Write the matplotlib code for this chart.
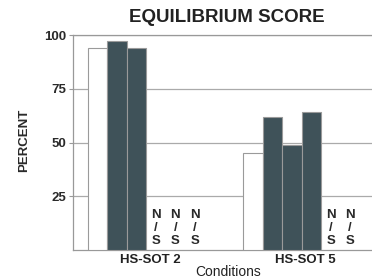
import matplotlib.pyplot as plt

plt.rcParams['font.family'] = ['Liberation Sans', 'DejaVu Sans']

conditions = ["HS-SOT 2", "HS-SOT 5"]
# six bar slots per condition; None = not shown (N/S)
hs_sot2 = [94, 97, 94, None, None, None]
hs_sot5 = [45, 62, 49, 64, None, None]
group_start = [0, 8]

yticks = [25, 50, 75, 100]

dark = "#3f5259"
edge = "#9a9a9a"

fig = plt.figure(figsize=(3.72, 2.80), dpi=100)
ax = fig.add_axes([73 / 372, 30 / 280, 316 / 372, 215 / 280])

for start, vals in zip(group_start, [hs_sot2, hs_sot5]):
    for i, v in enumerate(vals):
        x = start + i
        if v is None:
            ax.text(x + 0.5, 1.2, "N\n/\nS", ha="center", va="bottom",
                    fontsize=9.5, fontweight="bold", color="#2a2a2a",
                    linespacing=1.12)
            continue
        fc = "white" if i == 0 else dark
        ax.bar(x, v, width=1, align="edge", color=fc, edgecolor=edge,
               linewidth=0.8, zorder=3)

ax.set_xlim(-0.77, 15.5)
ax.set_ylim(0, 100)
ax.set_yticks(yticks)
ax.set_yticklabels([str(t) for t in yticks], fontsize=9.5, fontweight="bold",
                   color="#2a2a2a")
ax.yaxis.grid(True, color="#aaaaaa", linewidth=0.9, zorder=0)
ax.set_axisbelow(True)
ax.tick_params(axis="y", length=3, color="#999999", pad=2)

ax.set_xticks([s + 3.2 for s in group_start])
ax.set_xticklabels(conditions, fontsize=9.5, fontweight="semibold",
                   color="#222222")
ax.tick_params(axis="x", length=0, pad=3)

for side in ["left", "bottom", "top", "right"]:
    ax.spines[side].set_color("#999999")
    ax.spines[side].set_linewidth(0.9)

fig.text(24 / 372, 1 - 140 / 280, "PERCENT", rotation=90, ha="center",
         va="center", fontsize=9.5, fontweight="semibold", color="#2a2a2a")
fig.text(228 / 372, 1 - 272 / 280, "Conditions", ha="center", va="center",
         fontsize=10, color="#222222")
fig.text(227 / 372, 1 - 18 / 280, "EQUILIBRIUM SCORE", ha="center",
         va="center", fontsize=13.5, fontweight="bold", color="#222222")

fig.savefig("out.png", dpi=100)
